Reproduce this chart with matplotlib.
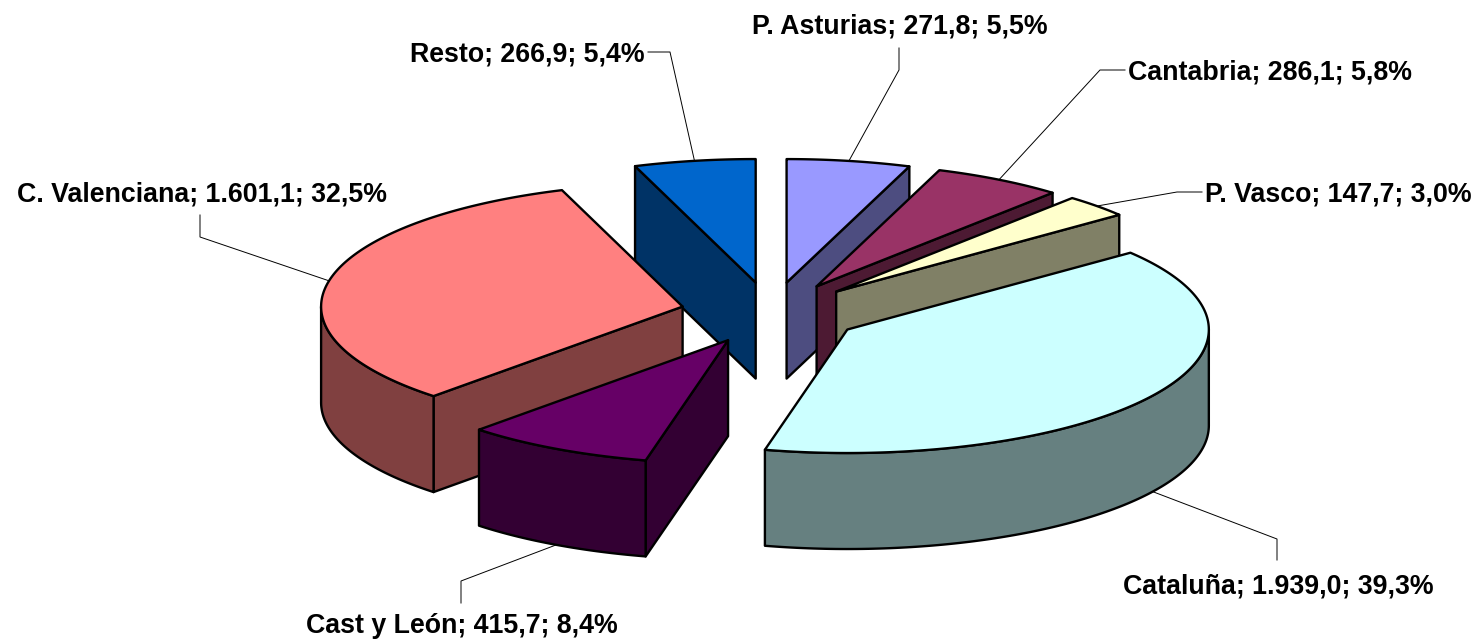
import numpy as np
import matplotlib
matplotlib.use('Agg')
import matplotlib.pyplot as plt
from matplotlib.patches import Polygon
from matplotlib.colors import to_rgb

# data (clockwise from 12 o'clock)
regions = ['P. Asturias', 'Cantabria', 'P. Vasco', 'Cataluña',
           'Cast y León', 'C. Valenciana', 'Resto']
values = [271.8, 286.1, 147.7, 1939.0, 415.7, 1601.1, 266.9]
top_colors = ['#9999FF', '#993366', '#FFFFCC', '#CCFFFF',
              '#660066', '#FF8080', '#0066CC']

# label layout: text x, baseline y, alignment, elbow, end of leader
label_pos = [
    (900, 34, 'center', (899, 70), (899, 48)),
    (1128, 79, 'left', (1100, 70), (1125, 70)),
    (1205, 202, 'left', (1177, 192), (1202, 192)),
    (1278, 593, 'center', (1277, 539), (1277, 560)),
    (462, 633, 'center', (461, 581), (461, 603)),
    (202, 202, 'center', (200, 237), (200, 215)),
    (645, 61, 'right', (670, 52), (648, 52)),
]

# pie geometry (pixels)
cx, cy = 771, 313
rx, ry = 361.5, 123.5
depth = 96
explode = 0.25


def es_num(v):
    s = f"{v:,.1f}"
    return s.replace(',', 'X').replace('.', ',').replace('X', '.')


def pt(theta, r, ox, oy, z=0.0):
    t = np.radians(theta)
    return ox + r * rx * np.sin(t), oy - r * ry * np.cos(t) + z * depth


fig = plt.figure(figsize=(14.84, 6.42), dpi=100)
ax = fig.add_axes([0, 0, 1, 1])
ax.set_xlim(0, 1484)
ax.set_ylim(642, 0)
ax.axis('off')

total = sum(values)
fracs = np.array(values) / total
ends = np.cumsum(fracs) * 360
starts = ends - fracs * 360
mids = (starts + ends) / 2

edge_kw = dict(edgecolor='black', linewidth=1.7, joinstyle='round')

# back slices first
order = np.argsort(-np.cos(np.radians(mids)))
for i in order:
    t1, t2, tm = starts[i], ends[i], mids[i]
    ox, oy = pt(tm, explode, cx, cy)
    top = to_rgb(top_colors[i])
    side = tuple(c * 0.5 for c in top)

    # radial faces
    if np.sin(np.radians(t1)) < -1e-6:
        x1, y1 = pt(t1, 1, ox, oy)
        ax.add_patch(Polygon([(ox, oy), (x1, y1), (x1, y1 + depth), (ox, oy + depth)],
                             facecolor=side, **edge_kw))
    if np.sin(np.radians(t2)) > 1e-6:
        x2, y2 = pt(t2, 1, ox, oy)
        ax.add_patch(Polygon([(ox, oy), (x2, y2), (x2, y2 + depth), (ox, oy + depth)],
                             facecolor=side, **edge_kw))

    # outer curved side
    a, b = max(t1, 90), min(t2, 270)
    if b > a:
        th = np.linspace(a, b, 120)
        xs, ys = pt(th, 1, ox, oy)
        verts = list(zip(xs, ys)) + list(zip(xs[::-1], ys[::-1] + depth))
        ax.add_patch(Polygon(verts, facecolor=side, **edge_kw))

    # top face
    th = np.linspace(t1, t2, 200)
    xs, ys = pt(th, 1, ox, oy)
    verts = [(ox, oy)] + list(zip(xs, ys))
    ax.add_patch(Polygon(verts, facecolor=top, **edge_kw))

# labels with leader lines
for i, name in enumerate(regions):
    tx, ty, ha, elbow, end = label_pos[i]
    tm = mids[i]
    ox, oy = pt(tm, explode, cx, cy)
    axx, ayy = pt(tm, 1, ox, oy)
    if np.cos(np.radians(tm)) < 0:
        ayy += depth
    ax.plot([axx, elbow[0], end[0]], [ayy, elbow[1], end[1]],
            color='black', linewidth=0.7, zorder=5)
    pct = f"{fracs[i] * 100:.1f}".replace('.', ',')
    ax.text(tx, ty, f"{name}; {es_num(values[i])}; {pct}%", ha=ha, va='baseline',
            fontsize=19.3, fontweight='bold', family='Liberation Sans', zorder=6)

fig.savefig('out.png', dpi=100)
